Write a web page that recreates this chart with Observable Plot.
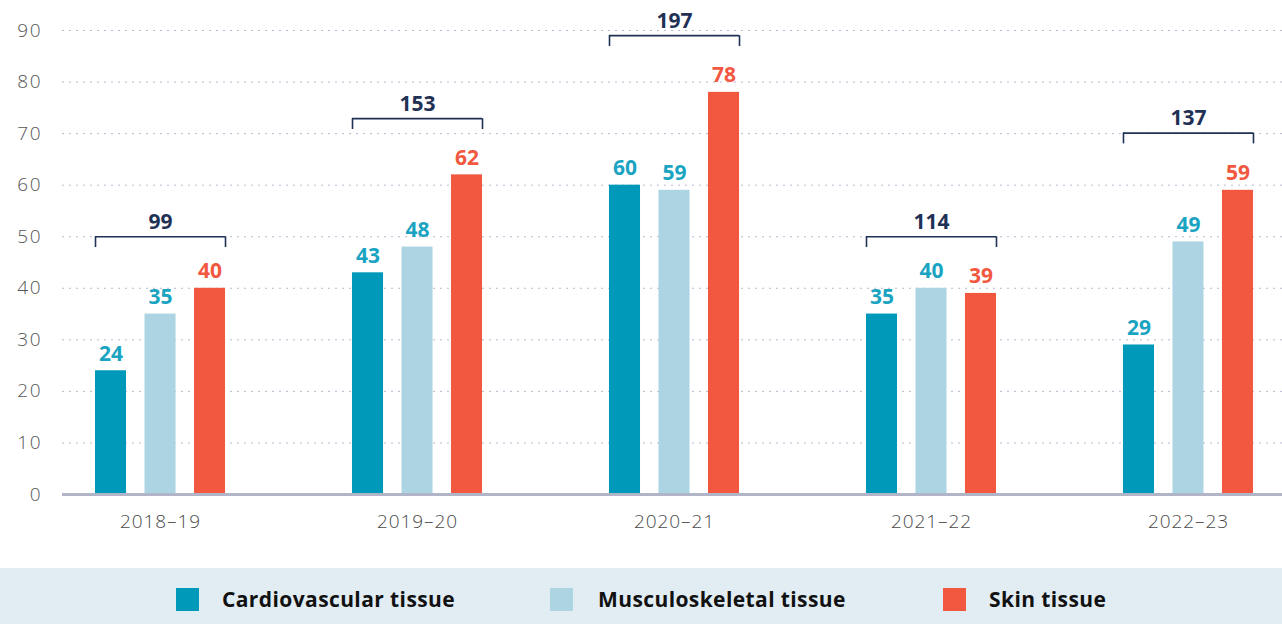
<!DOCTYPE html>
<html>
<head>
<meta charset="utf-8">
<script src="https://cdn.jsdelivr.net/npm/d3@7"></script>
<script src="https://cdn.jsdelivr.net/npm/@observablehq/plot@0.6"></script>
<style>
  html, body { margin: 0; padding: 0; background: #fff; }
  body { width: 1282px; height: 624px; overflow: hidden; font-family: "Open Sans", sans-serif; }
  #legend { position: relative; width: 1282px; height: 56px; background: #e1edf3; }
  .sw { position: absolute; top: 20px; width: 23px; height: 23px; }
  .lb { position: absolute; top: 21px; font-size: 21px; font-weight: 700; color: #111; line-height: 21px; letter-spacing: 0.4px; white-space: nowrap; }
  g[aria-label="y-axis tick label"] text { letter-spacing: 1.8px; }
  g[aria-label="x-axis tick label"] text { letter-spacing: 0.9px; }
</style>
</head>
<body>
<div id="chart"></div>
<div id="legend"></div>
<script>
const years = ["2018–19", "2019–20", "2020–21", "2021–22", "2022–23"];
const cardiovascular = [24, 43, 60, 35, 29];
const musculoskeletal = [35, 48, 59, 40, 49];
const skin = [40, 62, 78, 39, 59];
const totals = [99, 153, 197, 114, 137];
const bracketLevels = [50, 72.9, 89, 50, 70.1];
const yTicks = [0, 10, 20, 30, 40, 50, 60, 70, 80, 90];
const seriesNames = ["Cardiovascular tissue", "Musculoskeletal tissue", "Skin tissue"];
const colors = ["#0099b9", "#acd4e2", "#f2573f"];
const labelColors = ["#1aa4c2", "#1aa4c2", "#f2573f"];

const series = [cardiovascular, musculoskeletal, skin];
const tables = series.map(vals => years.map((y, i) => ({year: y, value: vals[i]})));
const brackets = years.map((y, i) => ({year: y, total: totals[i], level: bracketLevels[i]}));

const BW = 31, STEP = 49.5, BAND = 167, HALF = 65;
const offsets = [-STEP, 0, STEP];
const font = "Open Sans, sans-serif";
const navy = "#1f3155";

const marks = [
  Plot.gridY(yTicks, {stroke: "#b9b9d2", strokeOpacity: 1, strokeDasharray: "2,5", strokeWidth: 1}),
  Plot.axisY(yTicks, {tickSize: 0, tickPadding: 20, fontSize: 19, fill: "#555", fontWeight: 300, label: null}),
  Plot.axisX({tickSize: 0, tickPadding: 20, fontSize: 19, fill: "#4a4a4a", fontWeight: 300, label: null})
];
tables.forEach((t, k) => {
  const left = BAND / 2 + offsets[k] - BW / 2;
  marks.push(Plot.barY(t, {x: "year", y: "value", fill: colors[k], insetLeft: left, insetRight: BAND - left - BW}));
  marks.push(Plot.text(t, {x: "year", y: "value", text: d => String(d.value), dx: offsets[k], dy: -10, lineAnchor: "bottom",
    fill: labelColors[k], fontSize: 21, fontWeight: 700}));
});
marks.push(Plot.ruleY([0], {stroke: "#b0b5c7", strokeWidth: 3}));
marks.push(Plot.tickY(brackets, {x: "year", y: "level", stroke: navy, strokeWidth: 1.6, insetLeft: BAND / 2 - HALF, insetRight: BAND / 2 - HALF}));
[-HALF, HALF].forEach(dx => {
  marks.push(Plot.ruleX(brackets, {x: "year", y1: "level", y2: d => d.level - 2.1, dx, stroke: navy, strokeWidth: 1.6}));
});
marks.push(Plot.text(brackets, {x: "year", y: "level", text: d => String(d.total), dy: -8, lineAnchor: "bottom",
  fill: navy, fontSize: 21, fontWeight: 700}));

const chart = Plot.plot({
  width: 1282,
  height: 568,
  marginLeft: 62,
  marginRight: 0,
  marginTop: 30,
  marginBottom: 74,
  style: {fontFamily: font, background: "#fff", overflow: "visible"},
  x: {domain: years, paddingInner: 0.35, paddingOuter: 0.0486, align: 0.58, round: false},
  y: {domain: [0, 90]},
  marks
});
document.getElementById("chart").appendChild(chart);

const legend = document.getElementById("legend");
const swX = [176, 550, 943], lbX = [222, 598, 989];
seriesNames.forEach((n, k) => {
  const s = document.createElement("div");
  s.className = "sw"; s.style.left = swX[k] + "px"; s.style.background = colors[k];
  legend.appendChild(s);
  const l = document.createElement("div");
  l.className = "lb"; l.style.left = lbX[k] + "px"; l.textContent = n;
  legend.appendChild(l);
});
</script>
</body>
</html>
